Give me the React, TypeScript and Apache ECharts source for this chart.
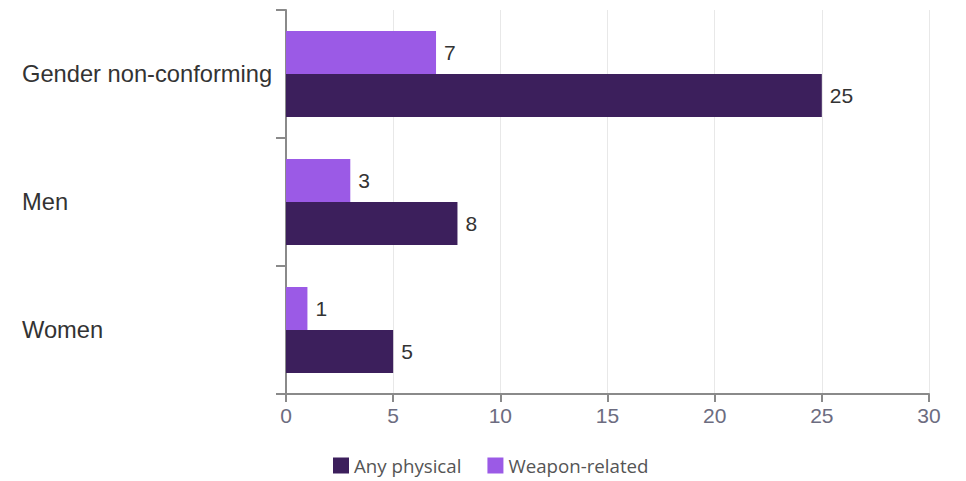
import React, { useEffect, useRef } from "react";
import * as echarts from "echarts";

const categories = ["Women", "Men", "Gender non-conforming"];
const anyPhysical = [5, 8, 25];
const weaponRelated = [1, 3, 7];
const xTicks = { min: 0, max: 30, interval: 5 };

export default function App() {
  const ref = useRef<HTMLDivElement>(null);
  useEffect(() => {
    if (!ref.current) return;
    const chart = echarts.init(ref.current, null, { renderer: "svg" });
    const labelStyle = {
      show: true,
      position: "right" as const,
      distance: 8,
      color: "#333",
      fontSize: 21,
      fontFamily: "Liberation Sans, Arial, sans-serif",
    };
    chart.setOption({
      animation: false,
      backgroundColor: "#fff",
      grid: { left: 286, right: 37, top: 10, bottom: 87, containLabel: false },
      legend: {
        bottom: 1,
        left: 328,
        itemWidth: 16,
        itemHeight: 16,
        itemGap: 26,
        icon: "rect",
        textStyle: { color: "#555", fontSize: 18.7, fontFamily: "Open Sans, sans-serif" },
        data: ["Any physical", "Weapon-related"],
      },
      xAxis: {
        type: "value",
        min: xTicks.min,
        max: xTicks.max,
        interval: xTicks.interval,
        axisLine: { show: true, lineStyle: { color: "#8a8a8a", width: 2 } },
        axisTick: { show: true, length: 8, lineStyle: { color: "#8a8a8a", width: 2 } },
        splitLine: { show: true, lineStyle: { color: "#e8e8e8", width: 1 } },
        axisLabel: {
          color: "#6c6c80",
          fontSize: 21,
          margin: 11,
          fontFamily: "Liberation Sans, Arial, sans-serif",
        },
      },
      yAxis: {
        type: "category",
        data: categories,
        axisLine: { show: true, lineStyle: { color: "#8a8a8a", width: 2 } },
        axisTick: { show: true, length: 10, lineStyle: { color: "#8a8a8a", width: 2 } },
        axisLabel: {
          color: "#333",
          fontSize: 23.7,
          margin: 264,
          align: "left",
          fontFamily: "Liberation Sans, Arial, sans-serif",
        },
        splitLine: { show: false },
      },
      series: [
        {
          name: "Weapon-related",
          type: "bar",
          data: weaponRelated,
          itemStyle: { color: "#9b5ae6" },
          barGap: "0%",
          barCategoryGap: "33%",
          label: labelStyle,
        },
        {
          name: "Any physical",
          type: "bar",
          data: anyPhysical,
          itemStyle: { color: "#3c1f5c" },
          barGap: "0%",
          barCategoryGap: "33%",
          label: labelStyle,
        },
      ],
    });
    return () => chart.dispose();
  }, []);
  return <div ref={ref} style={{ width: 966, height: 481, position: "absolute", left: 0, top: 0 }} />;
}
